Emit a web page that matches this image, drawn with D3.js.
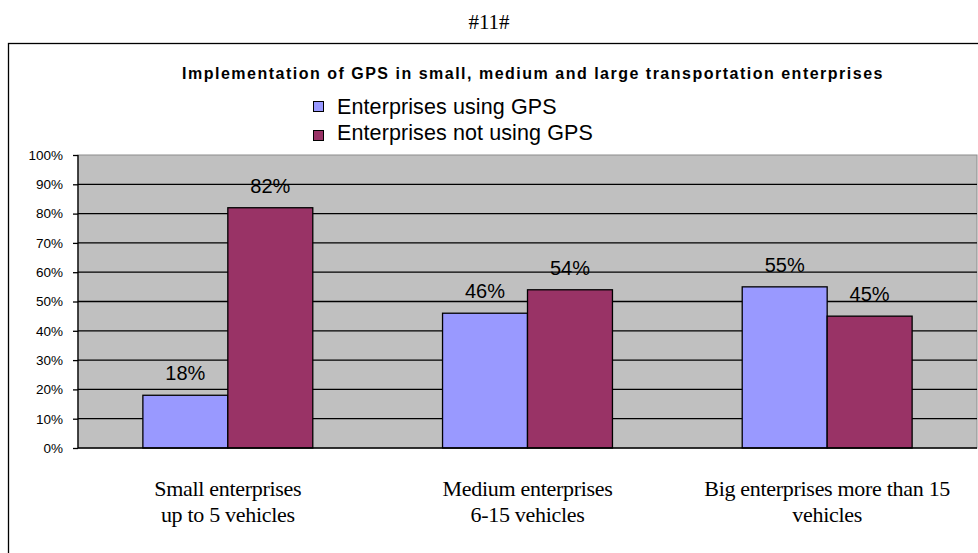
<!DOCTYPE html>
<html>
<head>
<meta charset="utf-8">
<script src="https://cdn.jsdelivr.net/npm/d3@7"></script>
<style>
  body { margin: 0; background: #fff; }
  svg { display: block; }
</style>
</head>
<body>
<script>
// data
var categories = [
  ["Small enterprises", "up to 5 vehicles"],
  ["Medium enterprises", "6-15 vehicles"],
  ["Big enterprises more than 15", "vehicles"]
];
var seriesNames = ["Enterprises using GPS", "Enterprises not using GPS"];
var usingGPS = [18, 46, 55];
var notUsingGPS = [82, 54, 45];
var yTicks = [0, 10, 20, 30, 40, 50, 60, 70, 80, 90, 100];
var colors = ["#9999ff", "#993366"];

var W = 978, H = 553;
var plot = {left: 78, top: 155, right: 977, bottom: 448};

var svg = d3.select("body").append("svg")
    .attr("width", W)
    .attr("height", H);

// page header
svg.append("text")
    .attr("x", 489).attr("y", 29)
    .attr("text-anchor", "middle")
    .style("font-family", "Liberation Serif, Times New Roman, serif")
    .style("font-size", "21px")
    .text("#11#");

// outer frame (runs off the page right and bottom)
svg.append("rect")
    .attr("x", 8.5).attr("y", 43.5)
    .attr("width", 1000).attr("height", 600)
    .attr("fill", "none")
    .attr("stroke", "#000")
    .attr("stroke-width", 1.3);

// title
svg.append("text")
    .attr("x", 533).attr("y", 79)
    .attr("text-anchor", "middle")
    .style("font-family", "Liberation Sans, Arial, sans-serif")
    .style("font-size", "16px")
    .style("font-weight", "bold")
    .style("letter-spacing", "1.5px")
    .text("Implementation of GPS in small, medium and large transportation enterprises");

// legend
var legend = svg.append("g");
seriesNames.forEach(function(name, i){
    var ly = 107 + i * 26;
    legend.append("rect")
        .attr("x", 313.5).attr("y", ly - 5.5 + i * 3)
        .attr("width", 10).attr("height", 10)
        .attr("fill", colors[i])
        .attr("stroke", "#000")
        .attr("stroke-width", 1);
    legend.append("text")
        .attr("x", 337).attr("y", ly + 7)
        .style("font-family", "Liberation Sans, Arial, sans-serif")
        .style("font-size", "21.5px")
        .style("letter-spacing", "0.1px")
        .text(name);
});

// scales
var x0 = d3.scaleBand()
    .domain(d3.range(categories.length))
    .range([plot.left, plot.right])
    .paddingInner(0.433)
    .paddingOuter(0.2165);

var x1 = d3.scaleBand()
    .domain([0, 1])
    .range([0, x0.bandwidth()]);

var y = d3.scaleLinear()
    .domain([0, 100])
    .range([plot.bottom, plot.top]);

// plot background
svg.append("rect")
    .attr("x", plot.left).attr("y", plot.top)
    .attr("width", plot.right - plot.left)
    .attr("height", plot.bottom - plot.top)
    .attr("fill", "#c0c0c0")
    .attr("stroke", "#8c8c8c")
    .attr("stroke-width", 1);

// gridlines
svg.append("g").selectAll("line")
    .data(yTicks.filter(function(d){ return d > 0 && d < 100; }))
    .enter().append("line")
    .attr("x1", plot.left).attr("x2", plot.right)
    .attr("y1", function(d){ return y(d); })
    .attr("y2", function(d){ return y(d); })
    .attr("stroke", "#000")
    .attr("stroke-width", 1.3);

// y axis
var yAxis = svg.append("g")
    .attr("transform", "translate(" + plot.left + ",0)")
    .call(d3.axisLeft(y).tickValues(yTicks).tickSize(5).tickPadding(10)
        .tickFormat(function(d){ return d + "%"; }));
yAxis.select(".domain").attr("stroke", "#000").attr("stroke-width", 1.3).attr("d", "M0," + plot.top + "V" + plot.bottom);
yAxis.selectAll(".tick line").attr("stroke", "#000").attr("stroke-width", 1.3);
yAxis.selectAll("text")
    .style("font-family", "Liberation Sans, Arial, sans-serif")
    .style("font-size", "13.5px")
    .attr("fill", "#000");

// bars
var rows = categories.map(function(c, i){ return [usingGPS[i], notUsingGPS[i]]; });

var groups = svg.append("g").selectAll("g")
    .data(rows)
    .enter().append("g")
    .attr("transform", function(d, i){ return "translate(" + x0(i) + ",0)"; });

groups.selectAll("rect")
    .data(function(d){ return d; })
    .enter().append("rect")
    .attr("x", function(d, j){ return x1(j); })
    .attr("y", function(d){ return y(d); })
    .attr("width", x1.bandwidth())
    .attr("height", function(d){ return y(0) - y(d); })
    .attr("fill", function(d, j){ return colors[j]; })
    .attr("stroke", "#000")
    .attr("stroke-width", 1.3);

groups.selectAll("text")
    .data(function(d){ return d; })
    .enter().append("text")
    .attr("x", function(d, j){ return x1(j) + x1.bandwidth() / 2; })
    .attr("y", function(d){ return y(d) - 15; })
    .attr("text-anchor", "middle")
    .style("font-family", "Liberation Sans, Arial, sans-serif")
    .style("font-size", "20px")
    .text(function(d){ return d + "%"; });

// baseline
svg.append("line")
    .attr("x1", plot.left).attr("x2", plot.right)
    .attr("y1", y(0)).attr("y2", y(0))
    .attr("stroke", "#000").attr("stroke-width", 1.3);

// category labels
var catLabels = svg.append("g").selectAll("text")
    .data(categories)
    .enter().append("text")
    .attr("x", function(d, i){ return x0(i) + x0.bandwidth() / 2; })
    .attr("y", 496)
    .attr("text-anchor", "middle")
    .style("font-family", "Liberation Serif, Times New Roman, serif")
    .style("font-size", "22px")
    .style("letter-spacing", "-0.3px");

catLabels.selectAll("tspan")
    .data(function(d){ return d; })
    .enter().append("tspan")
    .attr("x", function(){ return d3.select(this.parentNode).attr("x"); })
    .attr("dy", function(d, k){ return k === 0 ? 0 : 26; })
    .text(function(d){ return d; });
</script>
</body>
</html>
